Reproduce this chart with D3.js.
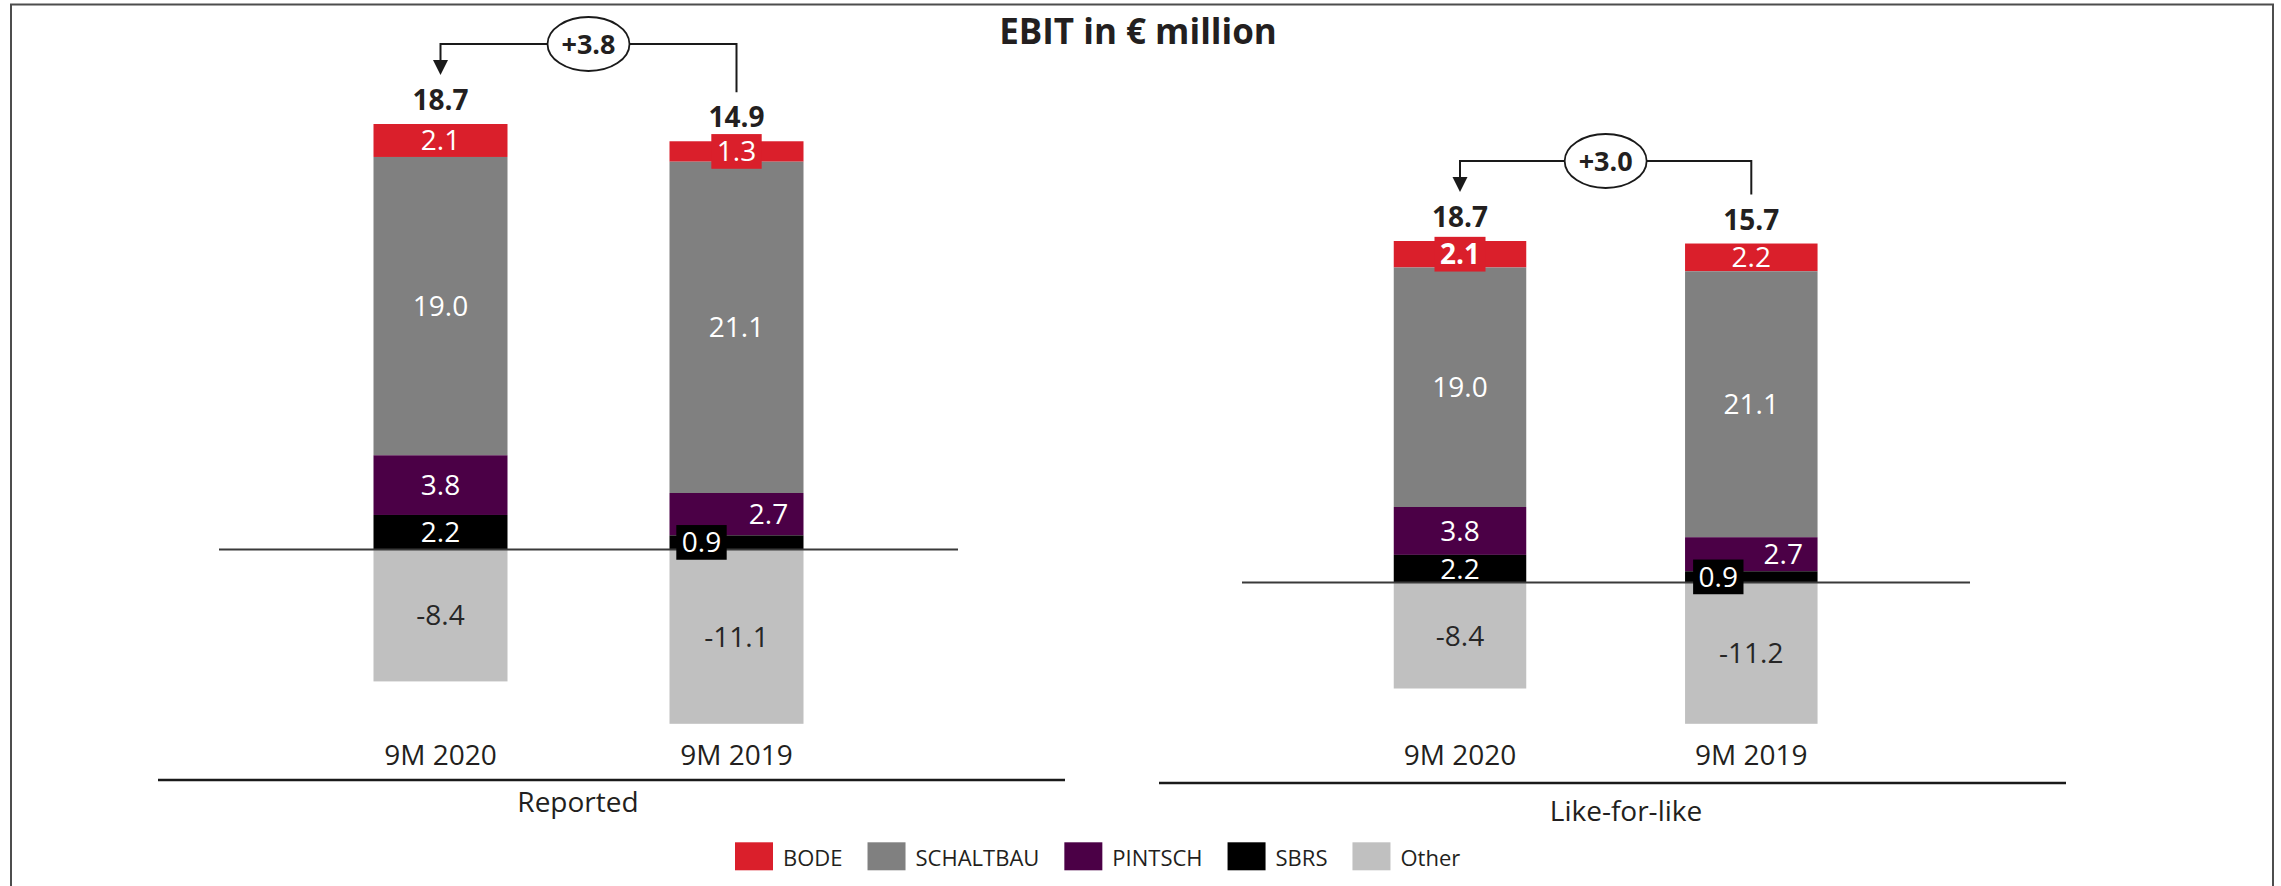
<!DOCTYPE html>
<html>
<head>
<meta charset="utf-8">
<script src="https://cdn.jsdelivr.net/npm/d3@7"></script>
<style>
body { margin: 0; background: #fff; }
svg { display: block; }
text { font-family: "Open Sans", sans-serif; fill: #231f20; }
</style>
</head>
<body>
<svg width="2281" height="886"></svg>
<script>
// data
const categories = ["9M 2020", "9M 2019"];
const seriesNames = ["BODE", "SCHALTBAU", "PINTSCH", "SBRS", "Other"];
// one row per series, one value per category
const reportedValues = [[2.1, 1.3], [19.0, 21.1], [3.8, 2.7], [2.2, 0.9], [-8.4, -11.1]];
const likeForLikeValues = [[2.1, 2.2], [19.0, 21.1], [3.8, 2.7], [2.2, 0.9], [-8.4, -11.2]];
const panelNames = ["Reported", "Like-for-like"];
const title = "EBIT in € million";

const colors = ["#da1f2b", "#808080", "#4b0046", "#000000", "#c0c0c0"];
const labelColors = ["#fff", "#fff", "#fff", "#fff", "#262626"];

// a few labels in the original sit off-centre or on a little box
const labelTweaks = {
    "Reported|9M 2019|BODE": {box: true},
    "Reported|9M 2019|PINTSCH": {dx: 32},
    "Reported|9M 2019|SBRS": {dx: -35, box: true},
    "Like-for-like|9M 2020|BODE": {box: true, bold: true},
    "Like-for-like|9M 2019|PINTSCH": {dx: 32},
    "Like-for-like|9M 2019|SBRS": {dx: -33, box: true}
};

const panels = [
    {name: panelNames[0], values: reportedValues, centers: [440.5, 736.5], barWidth: 134, top: 124,
     zeroX: [219, 958], lineX: [158, 1065], lineY: 780, nameX: 578, nameY: 812},
    {name: panelNames[1], values: likeForLikeValues, centers: [1460, 1751.3], barWidth: 132.5, top: 241,
     zeroX: [1242, 1970], lineX: [1159, 2066], lineY: 783, nameX: 1626, nameY: 821}
];
const bottomY = 723.8;

const svg = d3.select("svg");

svg.append("rect")
    .attr("x", 11).attr("y", 4.5)
    .attr("width", 2262).attr("height", 900)
    .attr("fill", "none")
    .attr("stroke", "#4d4d4d")
    .attr("stroke-width", 2);

svg.append("text")
    .attr("x", 1138).attr("y", 44)
    .attr("text-anchor", "middle")
    .attr("font-size", 35)
    .attr("font-weight", "bold")
    .text(title);

// plain hyphen for negatives, like the slide
const fmt = d3.formatLocale({decimal: ".", thousands: ",", grouping: [3], currency: ["", ""], minus: "-"}).format(".1f");

panels.forEach(p => {
    const rows = categories.map((c, i) => {
        const r = {cat: c};
        seriesNames.forEach((s, k) => r[s] = p.values[k][i]);
        return r;
    });
    const stacked = d3.stack()
        .keys(seriesNames)
        .order(d3.stackOrderReverse)
        .offset(d3.stackOffsetDiverging)(rows);

    const lo = d3.min(stacked, s => d3.min(s, d => d[0]));
    const hi = d3.max(stacked, s => d3.max(s, d => d[1]));
    const y = d3.scaleLinear().domain([lo, hi]).range([bottomY, p.top]);
    const x = d3.scalePoint().domain(categories).range(p.centers);

    const g = svg.append("g").attr("class", "panel");

    // bars
    stacked.forEach((s, k) => {
        g.selectAll(null)
            .data(s)
            .join("rect")
            .attr("x", d => x(d.data.cat) - p.barWidth / 2)
            .attr("width", p.barWidth)
            .attr("y", d => y(Math.max(d[0], d[1])))
            .attr("height", d => Math.abs(y(d[0]) - y(d[1])))
            .attr("fill", colors[k]);
    });

    // zero line
    g.append("line")
        .attr("x1", p.zeroX[0]).attr("x2", p.zeroX[1])
        .attr("y1", y(0)).attr("y2", y(0))
        .attr("stroke", "#3a3a3a")
        .attr("stroke-width", 2);

    // segment labels
    stacked.forEach((s, k) => {
        s.forEach(d => {
            const key = p.name + "|" + d.data.cat + "|" + s.key;
            const t = labelTweaks[key] || {};
            const cx = x(d.data.cat) + (t.dx || 0);
            const cy = (y(d[0]) + y(d[1])) / 2;
            const txt = g.append("text")
                .attr("x", cx).attr("y", cy + 10)
                .attr("text-anchor", "middle")
                .attr("font-size", 28)
                .attr("font-weight", t.bold ? "bold" : "normal")
                .style("fill", labelColors[k])
                .text(fmt(d.data[s.key]));
            if (t.box) {
                const w = txt.node().getComputedTextLength() + 11;
                g.insert("rect", () => txt.node())
                    .attr("x", cx - w / 2).attr("y", cy - 17.4)
                    .attr("width", w).attr("height", 34.7)
                    .attr("fill", colors[k]);
            }
        });
    });

    // totals above the bars
    const totals = categories.map((c, i) => d3.sum(p.values, v => v[i]));
    const tops = categories.map((c, i) => y(d3.max(stacked, s => s[i][1])));
    categories.forEach((c, i) => {
        g.append("text")
            .attr("x", x(c)).attr("y", tops[i] - 14)
            .attr("text-anchor", "middle")
            .attr("font-size", 28)
            .attr("font-weight", "bold")
            .text(fmt(totals[i]));
    });

    // change bracket
    const hy = d3.min(tops) - 80;
    const x1 = x(categories[0]), x2 = x(categories[1]);
    const tip = tops[0] - 49;
    g.append("path")
        .attr("d", `M${x2},${tops[1] - 49}V${hy}H${x1}V${tip - 15}`)
        .attr("fill", "none")
        .attr("stroke", "#1a1a1a")
        .attr("stroke-width", 2);
    g.append("path")
        .attr("d", `M${x1 - 7.5},${tip - 15}L${x1 + 7.5},${tip - 15}L${x1},${tip}Z`)
        .attr("fill", "#1a1a1a");
    g.append("ellipse")
        .attr("cx", (x1 + x2) / 2).attr("cy", hy)
        .attr("rx", 41).attr("ry", 27)
        .attr("fill", "#fff")
        .attr("stroke", "#1a1a1a")
        .attr("stroke-width", 1.8);
    const delta = totals[0] - totals[1];
    g.append("text")
        .attr("x", (x1 + x2) / 2).attr("y", hy + 10)
        .attr("text-anchor", "middle")
        .attr("font-size", 27)
        .attr("font-weight", "bold")
        .text((delta >= 0 ? "+" : "") + fmt(delta));

    // category labels
    g.selectAll(null)
        .data(categories)
        .join("text")
        .attr("x", d => x(d)).attr("y", 765)
        .attr("text-anchor", "middle")
        .attr("font-size", 28)
        .text(d => d);

    // group line and name
    g.append("line")
        .attr("x1", p.lineX[0]).attr("x2", p.lineX[1])
        .attr("y1", p.lineY).attr("y2", p.lineY)
        .attr("stroke", "#1a1a1a")
        .attr("stroke-width", 2.5);
    g.append("text")
        .attr("x", p.nameX).attr("y", p.nameY)
        .attr("text-anchor", "middle")
        .attr("font-size", 28)
        .text(p.name);
});

// legend
const legend = svg.append("g").attr("class", "legend");
let lx = 735;
seriesNames.forEach((s, k) => {
    legend.append("rect")
        .attr("x", lx).attr("y", 842.3)
        .attr("width", 38).attr("height", 28)
        .attr("fill", colors[k]);
    const t = legend.append("text")
        .attr("x", lx + 48).attr("y", 865.7)
        .attr("font-size", 22)
        .text(s);
    lx += 48 + t.node().getComputedTextLength() + 25;
});
</script>
</body>
</html>
